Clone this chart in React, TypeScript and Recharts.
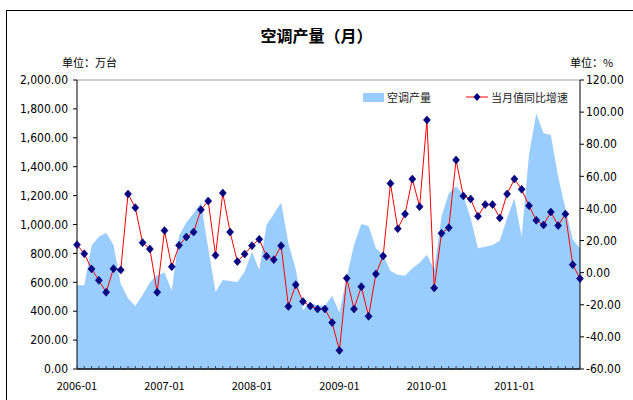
import { ComposedChart, Area, Line, XAxis, YAxis, ReferenceLine } from 'recharts';

// 2006-01 .. 2011-10
const months: string[] = [];
for (let y = 2006; y <= 2011; y++) {
  for (let m = 1; m <= 12; m++) {
    if (y === 2011 && m > 10) break;
    months.push(`${y}-${String(m).padStart(2, '0')}`);
  }
}

// 空调产量, 万台
const production = [
  579, 579, 854, 916, 943, 858, 588, 489, 434, 512, 600, 650,
  667, 542, 923, 1013, 1077, 1151, 835, 533, 616, 609, 602, 673,
  812, 685, 996, 1073, 1153, 870, 692, 408, 459, 440, 438, 507,
  390, 639, 858, 1003, 990, 835, 789, 678, 653, 646, 697, 736,
  791, 685, 1054, 1216, 1264, 1204, 1043, 835, 846, 858, 888, 1043,
  1181, 916, 1481, 1769, 1631, 1619, 1331, 1112, 897, 835,
];

// 当月值同比增速, %
const growth = [
  17.4, 11.8, 2.3, -4.8, -12.2, 2.5, 1.7, 49, 40.5, 18.7, 14.7, -12.2,
  26.2, 3.7, 17, 22.2, 25.3, 39.2, 44.6, 10.8, 49.6, 25.3, 6.9, 11.6,
  16.8, 20.8, 10.2, 8.1, 16.8, -21, -7.5, -18, -20.8, -22.6, -22.6, -31.1,
  -48.4, -3.5, -22.6, -8.7, -27.2, -0.8, 10.4, 55.6, 27.4, 36.5, 58.3, 41.1,
  95.1, -9.5, 24.5, 28, 70.2, 47.8, 45.9, 35.1, 42.4, 42.4, 34.1, 49,
  58.3, 51.9, 41.7, 32.6, 29.7, 37.8, 29.3, 36.5, 5, -3.7,
];

const leftTicks = [0, 200, 400, 600, 800, 1000, 1200, 1400, 1600, 1800, 2000];
const rightTicks = [-60, -40, -20, 0, 20, 40, 60, 80, 100, 120];

const data = months.map((month, i) => ({
  month,
  production: production[i],
  growth: growth[i],
}));

const numFont = '"Liberation Sans Narrow", "Arial Narrow", "DejaVu Sans Condensed", sans-serif';
const cjkFont = '"Noto Sans CJK SC", sans-serif';

const fmt = (v: number) =>
  v.toLocaleString('en-US', { minimumFractionDigits: 2, maximumFractionDigits: 2 });

const Diamond = (props: any) => {
  const { cx, cy } = props;
  if (cx == null || cy == null) return null;
  return (
    <path
      d={`M${cx},${cy - 4}L${cx + 3.5},${cy}L${cx},${cy + 4}L${cx - 3.5},${cy}Z`}
      fill="#000080"
      stroke="#000080"
      strokeWidth={0.6}
    />
  );
};

const MonthTick = (props: any) => {
  const { x, y, payload } = props;
  const label = String(payload.value);
  return (
    <g>
      <line x1={x} x2={x} y1={y} y2={y - 3} stroke="#444" strokeWidth={1} />
      {label.endsWith('-01') ? (
        <text x={x} y={y + 21} textAnchor="middle" fontSize={11} fontFamily={cjkFont} fill="#000">
          {label}
        </text>
      ) : null}
    </g>
  );
};

export default function App() {
  return (
    <div
      style={{
        position: 'absolute',
        left: 0,
        top: 0,
        width: 633,
        height: 400,
        overflow: 'hidden',
        background: '#fff',
      }}
    >
      <div
        style={{
          position: 'absolute',
          left: 6,
          top: 10,
          width: 700,
          height: 500,
          border: '1px solid #000',
        }}
      />
      <div
        style={{
          position: 'absolute',
          left: 0,
          width: 633,
          top: 24,
          textAlign: 'center',
          fontFamily: cjkFont,
          fontWeight: 'bold',
          fontSize: 16,
          lineHeight: '22px',
        }}
      >
        空调产量（月）
      </div>
      <div style={{ position: 'absolute', left: 62, top: 54, fontFamily: cjkFont, fontSize: 11 }}>
        单位：万台
      </div>
      <div style={{ position: 'absolute', left: 570, top: 54, fontFamily: cjkFont, fontSize: 11 }}>
        单位：%
      </div>

      <ComposedChart
        width={633}
        height={400}
        data={data}
        margin={{ top: 80, right: 0, bottom: 0, left: 0 }}
        style={{ position: 'absolute', left: 0, top: 0 }}
      >
        <XAxis
          dataKey="month"
          interval={0}
          tickLine={false}
          tickSize={0}
          tickMargin={0}
          tick={<MonthTick />}
          axisLine={{ stroke: '#000', strokeWidth: 1.5 }}
          height={31}
        />
        <YAxis
          yAxisId="left"
          orientation="left"
          width={77}
          domain={[0, 2000]}
          ticks={leftTicks}
          interval={0}
          tickFormatter={fmt}
          tickSize={4}
          tickMargin={5}
          tickLine={{ stroke: '#000' }}
          axisLine={{ stroke: '#000' }}
          tick={{ fontSize: 12, fontFamily: numFont, fill: '#000' }}
        />
        <YAxis
          yAxisId="right"
          orientation="right"
          width={53}
          domain={[-60, 120]}
          ticks={rightTicks}
          interval={0}
          tickFormatter={fmt}
          tickSize={4}
          tickMargin={2}
          tickLine={{ stroke: '#000' }}
          axisLine={{ stroke: '#000' }}
          tick={{ fontSize: 12, fontFamily: numFont, fill: '#000' }}
        />
        <ReferenceLine yAxisId="left" y={2000} stroke="#999" strokeWidth={1} />
        <Area
          yAxisId="left"
          type="linear"
          dataKey="production"
          fill="#99CCFF"
          fillOpacity={1}
          stroke="none"
          isAnimationActive={false}
        />
        <Line
          yAxisId="right"
          type="linear"
          dataKey="growth"
          stroke="#FF0000"
          strokeWidth={1}
          dot={<Diamond />}
          activeDot={false}
          isAnimationActive={false}
        />
      </ComposedChart>

      <div
        style={{
          position: 'absolute',
          left: 363,
          top: 89,
          display: 'flex',
          alignItems: 'center',
          fontFamily: cjkFont,
          fontSize: 11,
          color: '#222',
        }}
      >
        <span style={{ display: 'inline-block', width: 21, height: 9, background: '#99CCFF' }} />
        <span style={{ marginLeft: 3 }}>空调产量</span>
        <svg width={22} height={12} style={{ marginLeft: 35 }}>
          <line x1={0} x2={22} y1={6} y2={6} stroke="#FF0000" strokeWidth={1} />
          <path d="M11,2L14.5,6L11,10L7.5,6Z" fill="#000080" />
        </svg>
        <span style={{ marginLeft: 3 }}>当月值同比增速</span>
      </div>
    </div>
  );
}
